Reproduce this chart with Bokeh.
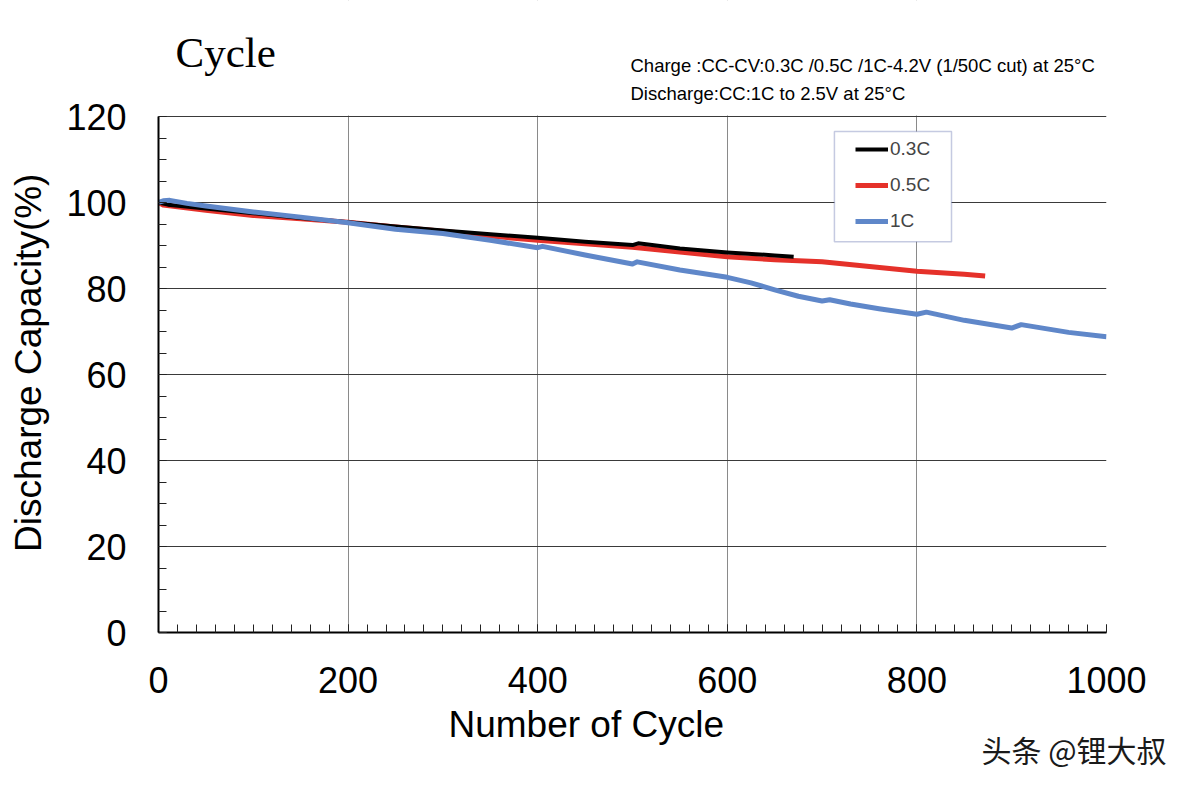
from bokeh.plotting import figure
from bokeh.models import (Range1d, SingleIntervalTicker, Label, Legend, LegendItem,
                          BoxAnnotation, Title)
from bokeh.embed import file_html
from bokeh.resources import INLINE

# ---- data ----
x_03 = [0, 10, 50, 100, 150, 200, 250, 300, 350, 400, 450, 500, 506, 550, 600, 650, 670]
y_03 = [100.0, 99.5, 98.6, 97.5, 96.4, 95.4, 94.4, 93.5, 92.6, 91.8, 90.9, 90.1, 90.5, 89.3, 88.4, 87.7, 87.4]

x_05 = [0, 5, 20, 50, 100, 150, 200, 250, 300, 350, 400, 450, 500, 550, 600, 650, 700, 750, 800, 850, 872]
y_05 = [100.0, 99.4, 99.0, 98.2, 97.0, 96.2, 95.4, 94.3, 93.3, 92.2, 91.2, 90.4, 89.6, 88.5, 87.4, 86.7, 86.2, 85.1, 84.0, 83.3, 82.9]

x_1c = [0, 5, 12, 30, 50, 100, 150, 200, 250, 300, 350, 400, 405, 450, 500, 505, 550, 600,
        625, 650, 675, 700, 708, 730, 760, 800, 810, 850, 900, 910, 960, 1000]
y_1c = [100.0, 100.4, 100.5, 99.8, 99.2, 97.8, 96.6, 95.3, 93.8, 92.8, 91.2, 89.5, 89.8, 87.8, 85.7, 86.2, 84.3, 82.6,
        81.3, 79.7, 78.2, 77.1, 77.4, 76.4, 75.3, 74.0, 74.5, 72.6, 70.8, 71.6, 69.8, 68.8]

series_names = ["0.3C", "0.5C", "1C"]
colors = ["#000000", "#e5312a", "#5f87c9"]

x_max = 1000
y_max = 120

title_text = "Cycle"
cond_line1 = "Charge :CC-CV:0.3C /0.5C /1C-4.2V (1/50C cut) at 25\u00b0C"
cond_line2 = "Discharge:CC:1C  to 2.5V at 25\u00b0C"
x_label = "Number of Cycle"
y_label = "Discharge Capacity(%)"
watermark = "头条 @锂大叔"

NBSP = "\u00a0"

# ---- figure ----
# frame: x 158..1106 px, y 0..632 px ; value 120 lands at 116 px
p = figure(width=1193, height=786, output_backend="svg", toolbar_location=None,
           x_range=Range1d(0, x_max), y_range=Range1d(0, 146.98),
           min_border_left=158, min_border_right=87, min_border_top=0, min_border_bottom=154)
p.title.visible = False
p.outline_line_color = None
p.background_fill_color = "white"
p.border_fill_color = "white"

r05 = p.line(x_05, y_05, line_color=colors[1], line_width=5, line_join="round")
r03 = p.line(x_03, y_03, line_color=colors[0], line_width=4, line_join="round")
r1c = p.line(x_1c, y_1c, line_color=colors[2], line_width=5, line_join="round")

p.xaxis.ticker = SingleIntervalTicker(interval=200, num_minor_ticks=10)
p.yaxis.ticker = SingleIntervalTicker(interval=20, num_minor_ticks=4)
p.xaxis.bounds = (0, x_max)
p.yaxis.bounds = (0, y_max)

for ax in (p.xaxis[0], p.yaxis[0]):
    ax.axis_line_color = "black"
    ax.axis_line_width = 2
    ax.major_tick_in = 8
    ax.major_tick_out = 0
    ax.minor_tick_in = 8
    ax.minor_tick_out = 0
    ax.major_tick_line_color = "#222222"
    ax.minor_tick_line_color = "#222222"
    ax.major_label_text_font = "Liberation Sans"
    ax.major_label_text_font_size = "36px"
    ax.major_label_text_color = "black"
    ax.axis_label_text_font = "Liberation Sans"
    ax.axis_label_text_font_size = "37px"
    ax.axis_label_text_font_style = "normal"
    ax.axis_label_text_color = "black"

# trailing no-break spaces shift the centred labels to where the original puts them
p.xaxis.axis_label = x_label + NBSP * 9
p.yaxis.axis_label = y_label + NBSP * 9
p.xaxis.major_label_standoff = 34
p.yaxis.major_label_standoff = 32
p.xaxis.axis_label_standoff = 8
p.yaxis.axis_label_standoff = 14

p.xgrid.grid_line_color = "#8a8a8a"
p.xgrid.grid_line_width = 1
p.ygrid.grid_line_color = "#3a3a3a"
p.ygrid.grid_line_width = 1

# hide the part of the vertical grid lines above the top of the chart area
mask = BoxAnnotation(bottom=y_max + 0.25, fill_color="white", fill_alpha=1.0,
                     line_alpha=0, level="underlay")
p.add_layout(mask)

# legend frame
box = BoxAnnotation(left=713, right=836.5, bottom=90.9, top=116.5,
                    fill_color="white", fill_alpha=1.0,
                    line_color="#3f4f9a", line_width=1.5)
p.add_layout(box)

legend = Legend(items=[LegendItem(label=series_names[0], renderers=[r03]),
                       LegendItem(label=series_names[1], renderers=[r05]),
                       LegendItem(label=series_names[2], renderers=[r1c])],
                location=(693, 396), orientation="vertical",
                glyph_width=33, glyph_height=20, label_height=20, spacing=14,
                padding=4, margin=0, label_standoff=2,
                label_text_font="Liberation Sans", label_text_font_size="19px",
                border_line_alpha=0, background_fill_alpha=0)
p.add_layout(legend)

p.add_layout(Label(x=17.9, y=134.9, text=title_text, text_font="Liberation Serif",
                   text_font_size="43px", text_color="black", text_baseline="alphabetic"))
p.add_layout(Label(x=497.9, y=131.8, text=cond_line1, text_font="Liberation Sans",
                   text_font_size="18.5px", text_color="black", text_baseline="alphabetic"))
p.add_layout(Label(x=497.9, y=125.3, text=cond_line2, text_font="Liberation Sans",
                   text_font_size="18.5px", text_color="black", text_baseline="alphabetic"))

wm = Title(text=watermark, align="left", offset=823,
           text_font="Noto Sans CJK SC", text_font_size="30px",
           text_font_style="normal", text_color="#1a1a1a")
try:
    wm.standoff = -46
except Exception:
    wm.standoff = 0
p.add_layout(wm, "below")

open("out.html", "w").write(file_html(p, INLINE))
